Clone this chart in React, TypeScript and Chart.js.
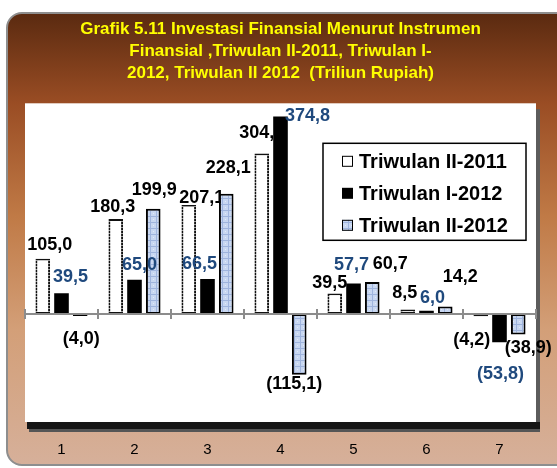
import React, { useEffect, useRef } from "react";
import { Chart, registerables } from "chart.js";
Chart.register(...registerables);

// ---- data ----
const categories = ["1", "2", "3", "4", "5", "6", "7"];
const seriesNames = ["Triwulan II-2011", "Triwulan I-2012", "Triwulan II-2012"];
const triwulanII2011 = [105.0, 180.3, 207.1, 304.7, 39.5, 8.5, -4.2];
const triwulanI2012 = [39.5, 65.0, 66.5, 374.8, 57.7, 6.0, -53.8];
const triwulanII2012 = [-4.0, 199.9, 228.1, -115.1, 60.7, 14.2, -38.9];
const titleLines = [
  "Grafik 5.11 Investasi Finansial Menurut Instrumen",
  "Finansial ,Triwulan II-2011, Triwulan I-",
  "2012, Triwulan II 2012  (Triliun Rupiah)",
];

// ---- style: label offsets (dx, dy) from the bar's value end ----
const labelOffsets = [
  [[7, -14], [-3, -12], [13, -7], [0, -20], [-5, -10], [-3, -17], [-9, 24]],
  [[9, -16], [5, -15], [-8, -15], [27, -1], [-2, -19], [6, -13], [1, 32]],
  [[1, 23], [1, -19], [2, -26], [-5, 9], [18, -18], [15, -29], [10, 14]],
];
const labelColors = ["#000000", "#1F497D", "#000000"];
const FONT = "'Liberation Sans', Arial, sans-serif";

function fmt(v: number) {
  const s = Math.abs(v).toFixed(1).replace(".", ",");
  return v < 0 ? `(${s})` : s;
}

function makeBluePattern(ctx: CanvasRenderingContext2D) {
  const c = document.createElement("canvas");
  c.width = 6;
  c.height = 6;
  const g = c.getContext("2d")!;
  g.fillStyle = "#c8d7f1";
  g.fillRect(0, 0, 6, 6);
  g.fillStyle = "#9fb4dd";
  g.fillRect(0, 0, 6, 1);
  g.fillRect(0, 0, 1, 6);
  g.fillStyle = "#e3eaf8";
  g.fillRect(3, 3, 1, 1);
  return ctx.createPattern(c, "repeat")!;
}

function makeDotPattern(ctx: CanvasRenderingContext2D) {
  const c = document.createElement("canvas");
  c.width = 2;
  c.height = 3;
  const g = c.getContext("2d")!;
  g.fillStyle = "#111";
  g.fillRect(0, 0, 2, 3);
  g.fillStyle = "#9a9a9a";
  g.fillRect(0, 2, 2, 1);
  return ctx.createPattern(c, "repeat")!;
}

export default function App() {
  const ref = useRef<HTMLCanvasElement>(null);
  useEffect(() => {
    const canvas = ref.current!;
    const ctx = canvas.getContext("2d")!;
    const blue = makeBluePattern(ctx);
    const dots = makeDotPattern(ctx);
    const fills = ["#ffffff", "#000000", blue];
    const borders = [dots, "#000000", "#000000"];

    const framePlugin = {
      id: "frame",
      beforeDraw(chart: any) {
        const c = chart.ctx;
        const { left, top, right, bottom } = chart.chartArea;
        c.save();
        c.fillStyle = "#ffffff";
        c.fillRect(0, 0, chart.width, chart.height);
        // rounded frame
        const x = 7, y = 13, w = 575, h = 452, r = 15;
        c.beginPath();
        c.moveTo(x + r, y);
        c.lineTo(x + w - r, y);
        c.arcTo(x + w, y, x + w, y + r, r);
        c.lineTo(x + w, y + h - r);
        c.arcTo(x + w, y + h, x + w - r, y + h, r);
        c.lineTo(x + r, y + h);
        c.arcTo(x, y + h, x, y + h - r, r);
        c.lineTo(x, y + r);
        c.arcTo(x, y, x + r, y, r);
        c.closePath();
        const grad = c.createLinearGradient(0, y, 0, y + h);
        grad.addColorStop(0, "#5a2a10");
        grad.addColorStop(0.2, "#9a4d24");
        grad.addColorStop(0.45, "#c07a46");
        grad.addColorStop(0.7, "#d39f78");
        grad.addColorStop(1, "#d6b09a");
        c.fillStyle = grad;
        c.fill();
        c.lineWidth = 2;
        c.strokeStyle = "#8e8e8e";
        c.stroke();
        // plot shadow
        c.fillStyle = "#5c5c5c";
        c.fillRect(right, top + 6, 4, bottom - top + 4);
        c.fillStyle = "#161616";
        c.fillRect(left + 2, bottom, right - left + 2, 7);
        c.fillStyle = "#555555";
        c.fillRect(left + 4, bottom + 7, right - left, 3);
        // white plot box
        c.fillStyle = "#ffffff";
        c.fillRect(left, top, right - left, bottom - top);
        c.restore();
      },
    };

    const drawLabels = (chart: any, which: number[]) => {
      const c = chart.ctx;
      c.save();
      c.font = `bold 18px ${FONT}`;
      c.textAlign = "center";
      c.textBaseline = "middle";
      which.forEach((di) => {
        const meta = chart.getDatasetMeta(di);
        const data = chart.data.datasets[di].data as number[];
        meta.data.forEach((bar: any, j: number) => {
          const [dx, dy] = labelOffsets[di][j];
          c.fillStyle = labelColors[di];
          c.fillText(fmt(data[j]), bar.x + dx, bar.y + dy);
        });
      });
      c.restore();
    };

    const overlayPlugin = {
      id: "overlay",
      beforeDatasetsDraw(chart: any) {
        drawLabels(chart, [0]);
      },
      afterDatasetsDraw(chart: any) {
        const c = chart.ctx;
        const { left, right } = chart.chartArea;
        const y0 = chart.scales.y.getPixelForValue(0);
        const xs = chart.scales.x;
        c.save();
        c.strokeStyle = "#8c8c8c";
        c.lineWidth = 2;
        c.beginPath();
        c.moveTo(left, y0);
        c.lineTo(right, y0);
        const step = (right - left) / categories.length;
        for (let i = 0; i <= categories.length; i++) {
          const tx = i < categories.length ? xs.getPixelForValue(i) - step / 2 : right;
          c.moveTo(tx, y0 - 5);
          c.lineTo(tx, y0 + 5);
        }
        c.stroke();
        c.restore();
        drawLabels(chart, [1, 2]);
      },
      afterDraw(chart: any) {
        const c = chart.ctx;
        const { top, right } = chart.chartArea;
        const bx = right - 213, by = top + 40, bw = 203, bh = 97;
        c.save();
        c.fillStyle = "#ffffff";
        c.fillRect(bx, by, bw, bh);
        c.strokeStyle = "#000";
        c.lineWidth = 1.5;
        c.strokeRect(bx, by, bw, bh);
        c.font = `bold 20px ${FONT}`;
        c.textBaseline = "middle";
        c.textAlign = "left";
        seriesNames.forEach((name, i) => {
          const cy = by + 18 + i * 32;
          const mx = bx + 19, ms = 11;
          c.fillStyle = fills[i] as any;
          c.fillRect(mx, cy - ms / 2, ms, ms);
          if (i !== 1) {
            c.strokeStyle = "#000";
            c.lineWidth = 1;
            c.strokeRect(mx + 0.5, cy - ms / 2 + 0.5, ms - 1, ms - 1);
          }
          c.fillStyle = "#000";
          c.fillText(name, bx + 36, cy + 1);
        });
        c.restore();
      },
    };

    const chart = new Chart(canvas, {
      type: "bar",
      data: {
        labels: categories,
        datasets: [triwulanII2011, triwulanI2012, triwulanII2012].map((d, i) => ({
          label: seriesNames[i],
          data: d,
          backgroundColor: fills[i] as any,
          borderColor: borders[i] as any,
          borderWidth: i === 1 ? 0 : 2,
          borderSkipped: false,
          categoryPercentage: 0.77,
          barPercentage: 0.78,
        })),
      },
      options: {
        responsive: false,
        animation: false,
        devicePixelRatio: 1,
        layout: { padding: { left: 25, right: 21, top: 18, bottom: 6 } },
        plugins: {
          legend: { display: false },
          tooltip: { enabled: false },
          title: {
            display: true,
            text: titleLines,
            color: "#FFFF00",
            font: { family: FONT, size: 17, weight: "bold", lineHeight: 1.3 },
            padding: { top: 0, bottom: 19 },
          },
        },
        scales: {
          x: {
            grid: { display: false, drawTicks: true, tickLength: 16 },
            border: { display: false },
            ticks: { color: "#000", font: { family: FONT, size: 15 }, padding: 3 },
          },
          y: { display: false, min: -205, max: 400 },
        },
      },
      plugins: [framePlugin, overlayPlugin],
    });
    return () => chart.destroy();
  }, []);

  return (
    <div style={{ position: "fixed", left: 0, top: 0, width: 557, height: 468 }}>
      <canvas ref={ref} width={557} height={468} style={{ width: 557, height: 468, display: "block" }} />
    </div>
  );
}
